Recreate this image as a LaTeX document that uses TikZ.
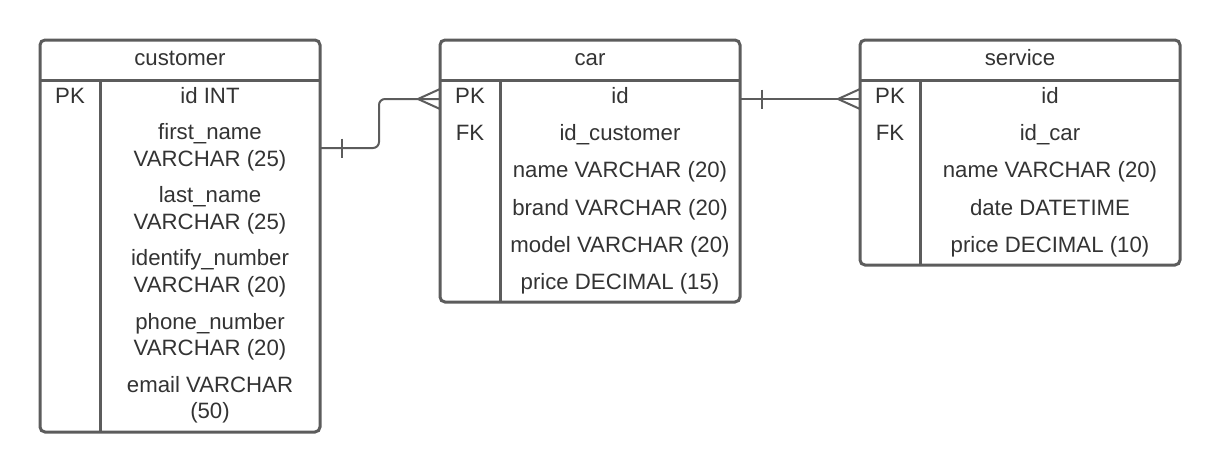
\documentclass[tikz,border=0pt]{standalone}
\usepackage{fontspec}
\setmainfont{Liberation Sans}
\definecolor{framegray}{HTML}{5C5C5C}
\definecolor{txtgray}{HTML}{333333}
\tikzset{
	entity/.style={draw=framegray, line width=3pt, rounded corners=5pt, inner sep=0pt, outer sep=0pt, anchor=north west, fill=white},
	divider/.style={draw=framegray, line width=3pt},
	field/.style={anchor=base, text=txtgray, inner sep=0pt},
	relline/.style={draw=framegray, line width=2pt}
}

\begin{document}
\begin{tikzpicture}[x=1pt, y=-1pt, font=\fontsize{22.2pt}{26pt}\selectfont]
			%%%%% START %%%%%
			\useasboundingbox (0, 0) rectangle (1220, 472);
			
			% customer
			\node[entity, minimum width=280pt, minimum height=392pt] (customer) at (40, 40) {};
			\draw[divider] (40, 80) -- (320, 80);
			\draw[divider] (100, 80) -- (100, 432);
			\node[field] (custtitle) at (180, 65) {customer};
			\node[field] (custpk) at (70, 103.5) {PK};
			\node[field] (custid) at (210, 103.5) {id INT};
			\node[field] (custfirst) at (210, 139.5) {first\_name};
			\node[field] (custfirsttype) at (210, 166) {VARCHAR (25)};
			\node[field] (custlast) at (210, 202.5) {last\_name};
			\node[field] (custlasttype) at (210, 229) {VARCHAR (25)};
			\node[field] (custident) at (210, 265.5) {identify\_number};
			\node[field] (custidenttype) at (210, 292) {VARCHAR (20)};
			\node[field] (custphone) at (210, 329) {phone\_number};
			\node[field] (custphonetype) at (210, 355) {VARCHAR (20)};
			\node[field] (custemail) at (210, 392) {email VARCHAR};
			\node[field] (custemailtype) at (210, 418) {(50)};
			
			% car
			\node[entity, minimum width=300pt, minimum height=262pt] (car) at (440, 40) {};
			\draw[divider] (440, 80) -- (740, 80);
			\draw[divider] (500, 80) -- (500, 302);
			\node[field] (cartitle) at (590, 65) {car};
			\node[field] (carpk) at (470, 103.5) {PK};
			\node[field] (carfk) at (470, 140.7) {FK};
			\node[field] (carid) at (620, 103.5) {id};
			\node[field] (carcust) at (620, 140.7) {id\_customer};
			\node[field] (carname) at (620, 177.9) {name VARCHAR (20)};
			\node[field] (carbrand) at (620, 215.1) {brand VARCHAR (20)};
			\node[field] (carmodel) at (620, 252.3) {model VARCHAR (20)};
			\node[field] (carprice) at (620, 289.5) {price DECIMAL (15)};
			
			% service
			\node[entity, minimum width=320pt, minimum height=225pt] (service) at (860, 40) {};
			\draw[divider] (860, 80) -- (1180, 80);
			\draw[divider] (920, 80) -- (920, 265);
			\node[field] (servtitle) at (1020, 65) {service};
			\node[field] (servpk) at (890, 103.5) {PK};
			\node[field] (servfk) at (890, 140.7) {FK};
			\node[field] (servid) at (1050, 103.5) {id};
			\node[field] (servcar) at (1050, 140.7) {id\_car};
			\node[field] (servname) at (1050, 177.9) {name VARCHAR (20)};
			\node[field] (servdate) at (1050, 215.1) {date DATETIME};
			\node[field] (servprice) at (1050, 252.3) {price DECIMAL (10)};
			
			% customer -- car
			\draw[relline, rounded corners=6pt] ([yshift=-108pt]customer.north east) -- ++(59, 0) |- ([yshift=-59pt]car.north west);
			\draw[relline] ([yshift=-108pt]customer.north east) ++(22, -9.5) -- ++(0, 19);
			\draw[relline] ([yshift=-59pt]car.north west) ++(0, -10) -- ++(-22, 10) -- ++(22, 10);
			
			% car -- service
			\draw[relline] ([yshift=-59pt]car.north east) -- ([yshift=-59pt]service.north west);
			\draw[relline] ([yshift=-59pt]car.north east) ++(22, -9.5) -- ++(0, 19);
			\draw[relline] ([yshift=-59pt]service.north west) ++(0, -10) -- ++(-22, 10) -- ++(22, 10);
			
			%%%%% END %%%%%
\end{tikzpicture}
\end{document}
